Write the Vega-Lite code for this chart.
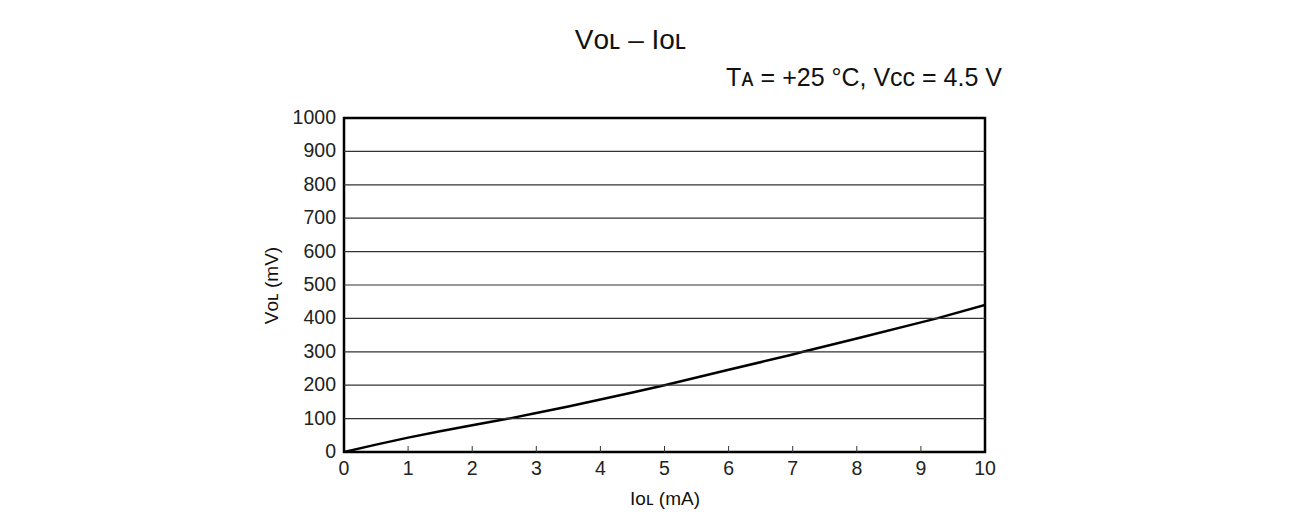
{
  "$schema": "https://vega.github.io/schema/vega-lite/v6.json",
  "width": 641,
  "height": 334,
  "autosize": {"type": "none"},
  "padding": {"left": 344, "top": 118, "right": 331, "bottom": 77},
  "background": "white",
  "config": {
    "font": "Liberation Sans, DejaVu Sans",
    "view": {"stroke": "black", "strokeWidth": 2.5},
    "axis": {
      "titleFont": "Liberation Sans, DejaVu Sans",
      "titleColor": "#111",
      "titleFontSize": 19,
      "titleFontWeight": "normal",
      "domain": true,
      "domainOpacity": 0,
      "labels": false,
      "ticks": false,
      "grid": false
    }
  },
  "datasets": {
    "curve": [
      {"i": 0, "v": 0},
      {"i": 0.5, "v": 22},
      {"i": 1, "v": 43},
      {"i": 1.5, "v": 62},
      {"i": 2, "v": 80},
      {"i": 2.57, "v": 100},
      {"i": 3, "v": 117},
      {"i": 3.5, "v": 136},
      {"i": 4, "v": 157},
      {"i": 4.5, "v": 178},
      {"i": 5, "v": 200},
      {"i": 6, "v": 246},
      {"i": 7, "v": 292},
      {"i": 7.16, "v": 300},
      {"i": 8, "v": 340},
      {"i": 9, "v": 388},
      {"i": 9.25, "v": 400},
      {"i": 10, "v": 440}
    ],
    "yticks": [
      {"y": 0}, {"y": 100}, {"y": 200}, {"y": 300}, {"y": 400}, {"y": 500},
      {"y": 600}, {"y": 700}, {"y": 800}, {"y": 900}, {"y": 1000}
    ],
    "xticks": [
      {"x": 0}, {"x": 1}, {"x": 2}, {"x": 3}, {"x": 4}, {"x": 5},
      {"x": 6}, {"x": 7}, {"x": 8}, {"x": 9}, {"x": 10}
    ],
    "ygrid": [
      {"y": 100}, {"y": 200}, {"y": 300}, {"y": 400}, {"y": 500},
      {"y": 600}, {"y": 700}, {"y": 800}, {"y": 900}
    ],
    "xinner": [
      {"x": 1}, {"x": 2}, {"x": 3}, {"x": 4}, {"x": 5},
      {"x": 6}, {"x": 7}, {"x": 8}, {"x": 9}
    ],
    "titles": [
      {"label": "Vᴏʟ – Iᴏʟ"}
    ],
    "subtitles": [
      {"label": "Tᴀ = +25 °C, Vᴄᴄ = 4.5 V"}
    ]
  },
  "layer": [
    {
      "data": {"name": "curve"},
      "mark": {"type": "line", "color": "black", "strokeWidth": 2.5, "clip": true},
      "encoding": {
        "x": {"field": "i", "type": "quantitative", "scale": {"domain": [0, 10], "nice": false}, "axis": {"title": "Iᴏʟ (mA)", "titlePadding": 37}},
        "y": {"field": "v", "type": "quantitative", "scale": {"domain": [0, 1000], "nice": false}, "axis": {"title": "Vᴏʟ (mV)", "titlePadding": 63}}
      }
    },
    {
      "data": {"name": "ygrid"},
      "mark": {"type": "rule", "color": "#333", "strokeWidth": 1.2},
      "encoding": {
        "y": {"field": "y", "type": "quantitative"}
      }
    },
    {
      "data": {"name": "xinner"},
      "mark": {"type": "tick", "orient": "vertical", "color": "#333", "thickness": 1, "size": 12, "clip": true, "opacity": 1},
      "encoding": {
        "x": {"field": "x", "type": "quantitative"},
        "y": {"datum": 0, "type": "quantitative"}
      }
    },
    {
      "data": {"name": "yticks"},
      "mark": {"type": "text", "align": "right", "baseline": "middle", "fontSize": 19.5, "color": "#222", "dx": -8, "clip": false},
      "encoding": {
        "y": {"field": "y", "type": "quantitative"},
        "x": {"datum": 0, "type": "quantitative"},
        "text": {"field": "y", "type": "quantitative", "format": "d"}
      }
    },
    {
      "data": {"name": "xticks"},
      "mark": {"type": "text", "align": "center", "baseline": "top", "fontSize": 19.5, "color": "#222", "dy": 8, "clip": false},
      "encoding": {
        "x": {"field": "x", "type": "quantitative"},
        "y": {"datum": 0, "type": "quantitative"},
        "text": {"field": "x", "type": "quantitative", "format": "d"}
      }
    },
    {
      "data": {"name": "subtitles"},
      "mark": {"type": "text", "align": "right", "baseline": "alphabetic", "fontSize": 25, "color": "#111", "dx": 17, "dy": -32, "clip": false},
      "encoding": {
        "x": {"datum": 10, "type": "quantitative"},
        "y": {"datum": 1000, "type": "quantitative"},
        "text": {"field": "label"}
      }
    },
    {
      "data": {"name": "titles"},
      "mark": {"type": "text", "align": "center", "baseline": "alphabetic", "fontSize": 28, "color": "#111", "dx": -34, "dy": -69, "clip": false},
      "encoding": {
        "x": {"datum": 5, "type": "quantitative"},
        "y": {"datum": 1000, "type": "quantitative"},
        "text": {"field": "label"}
      }
    }
  ]
}
